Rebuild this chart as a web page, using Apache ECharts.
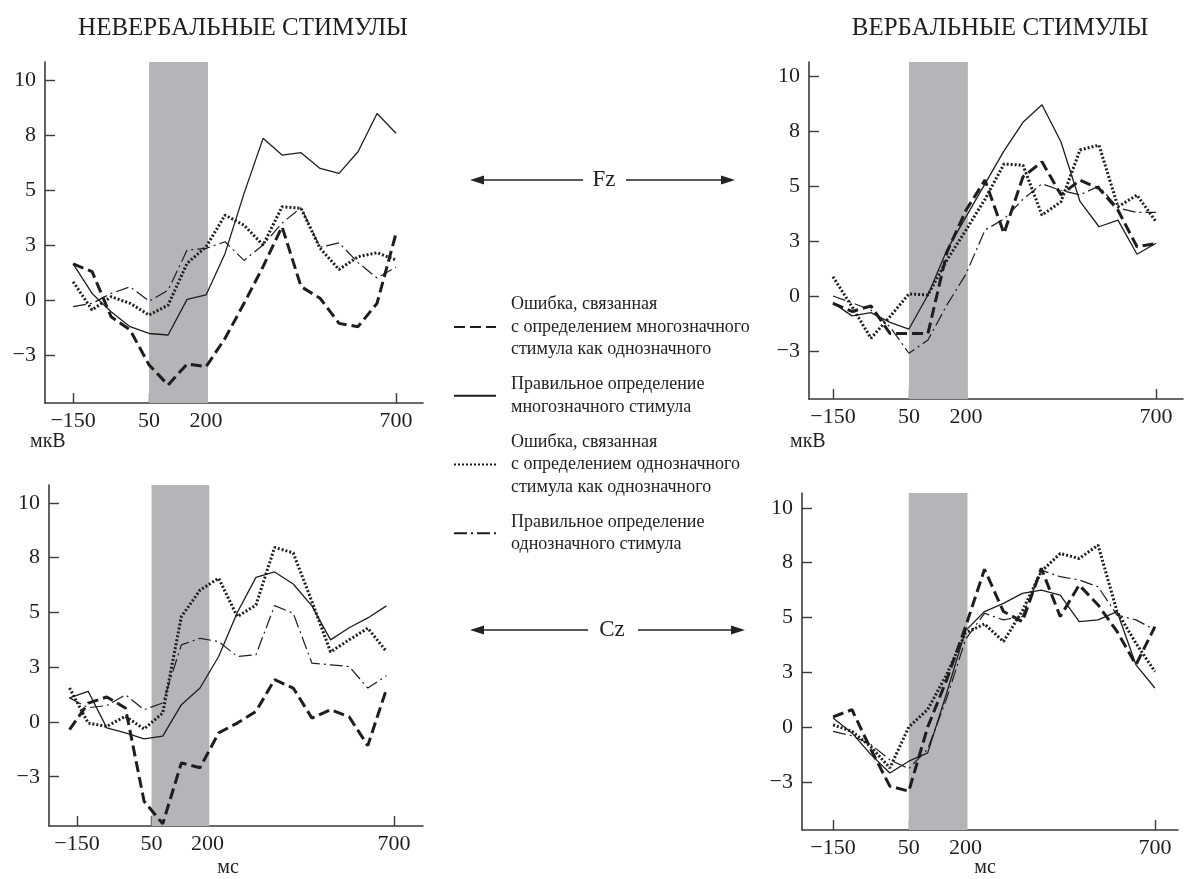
<!DOCTYPE html>
<html><head><meta charset="utf-8">
<script src="https://cdn.jsdelivr.net/npm/echarts@6/dist/echarts.min.js"></script>
<style>html,body{margin:0;padding:0;background:#fff}#c{width:1184px;height:879px}</style>
</head><body><div id="c"></div>
<script>
// ---------- data ----------
const timesStd = [-150,-100,-50,0,50,100,150,200,250,300,350,400,450,500,550,600,650,700];
const timesCzNonverbal = [-170,-120,-70,-20,30,80,130,180,230,280,330,380,430,480,530,580,630,680];
const xTickValues = [-150, 50, 200, 700];
const xTickLabels = ['\u2212150', '50', '200', '700'];
const yTickValues = [-2.5, 0, 2.5, 5, 7.5, 10];
const yTickLabels = ['\u22123', '0', '3', '5', '8', '10'];
const stimWindow = [50, 205];
const seriesNames = [
  'Ошибка, связанная\nс определением многозначного\nстимула как однозначного',
  'Правильное определение\nмногозначного стимула',
  'Ошибка, связанная\nс определением однозначного\nстимула как однозначного',
  'Правильное определение\nоднозначного стимула'
];
const panelTitles = ['НЕВЕРБАЛЬНЫЕ СТИМУЛЫ', 'ВЕРБАЛЬНЫЕ СТИМУЛЫ'];
const electrodes = ['Fz', 'Cz'];
const unitY = 'мкВ';
const unitX = 'мс';

// Fz, non-verbal
const fzNonErrAmb   = [1.64, 1.29, -0.76, -1.36, -2.95, -3.86, -2.91, -3.03, -1.74, -0.15, 1.52, 3.33, 0.61, 0.08, -1.06, -1.21, -0.15, 3.03];
const fzNonCorrAmb  = [1.64, 0.30, -0.53, -1.21, -1.52, -1.59, 0.03, 0.23, 2.12, 4.85, 7.35, 6.59, 6.70, 5.98, 5.76, 6.74, 8.48, 7.58];
const fzNonErrUn    = [0.83, -0.45, 0.15, -0.15, -0.68, -0.23, 1.67, 2.42, 3.86, 3.40, 2.50, 4.24, 4.17, 2.35, 1.39, 1.97, 2.15, 1.82];
const fzNonCorrUn   = [-0.30, -0.15, 0.30, 0.60, -0.05, 0.45, 2.27, 2.35, 2.65, 1.80, 2.50, 3.50, 4.20, 2.40, 2.60, 1.70, 1.00, 1.50];
// Fz, verbal
const fzVerErrAmb   = [-0.33, -0.70, -0.45, -1.70, -1.70, -1.70, 2.00, 3.90, 5.27, 2.85, 5.42, 6.10, 4.60, 5.27, 4.89, 3.90, 2.24, 2.39];
const fzVerCorrAmb  = [-0.30, -0.90, -0.75, -1.20, -1.50, 0.05, 2.10, 3.60, 5.10, 6.60, 7.90, 8.70, 7.00, 4.30, 3.15, 3.45, 1.90, 2.40];
const fzVerErrUn    = [0.88, -0.48, -1.92, -0.94, 0.10, 0.05, 1.64, 3.00, 4.40, 6.00, 5.95, 3.68, 4.29, 6.64, 6.86, 4.06, 4.59, 3.38];
const fzVerCorrUn   = [0.00, -0.30, -0.64, -1.40, -2.60, -2.00, -0.40, 1.00, 3.00, 3.50, 4.40, 5.10, 4.80, 4.60, 5.00, 4.00, 3.80, 3.80];
// Cz, non-verbal
const czNonErrAmb   = [-0.35, 0.86, 1.14, 0.64, -3.62, -4.65, -1.87, -2.09, -0.50, -0.05, 0.48, 1.93, 1.55, 0.18, 0.56, 0.23, -1.08, 1.50];
const czNonCorrAmb  = [1.10, 1.40, -0.27, -0.50, -0.77, -0.65, 0.79, 1.55, 2.99, 5.00, 6.60, 6.85, 6.30, 5.30, 3.75, 4.30, 4.75, 5.30];
const czNonErrUn    = [1.55, -0.05, -0.20, 0.26, -0.32, 0.41, 4.81, 6.02, 6.56, 4.81, 5.34, 7.97, 7.72, 5.50, 3.20, 3.75, 4.28, 3.22];
const czNonCorrUn   = [1.10, 0.65, 0.75, 1.24, 0.56, 0.87, 3.52, 3.82, 3.67, 2.99, 3.07, 5.31, 4.96, 2.69, 2.61, 2.53, 1.55, 2.11];
// Cz, verbal
const czVerErrAmb   = [0.46, 0.79, -1.03, -2.70, -2.93, 0.00, 2.15, 4.58, 7.20, 5.27, 4.81, 7.24, 5.04, 6.48, 5.57, 4.36, 2.84, 4.58];
const czVerCorrAmb  = [0.41, -0.27, -1.26, -2.10, -1.56, -1.18, 1.55, 4.40, 5.27, 5.64, 6.10, 6.25, 6.02, 4.81, 4.89, 5.27, 2.84, 1.78];
const czVerErrUn    = [0.10, -0.20, -0.90, -1.87, 0.00, 0.80, 2.40, 4.30, 4.70, 3.90, 5.30, 7.10, 7.92, 7.69, 8.30, 5.27, 3.82, 2.53];
const czVerCorrUn   = [-0.20, -0.40, -0.80, -1.50, -1.90, -1.00, 1.30, 4.00, 5.19, 4.89, 5.04, 7.16, 6.86, 6.71, 6.40, 5.11, 4.89, 4.43];

// ---------- layout / styles ----------
const FONT = '"Liberation Serif", "Times New Roman", serif';
const INK = '#1e1e1e';
const panels = [
  { times: timesStd, lines: [fzNonErrAmb, fzNonCorrAmb, fzNonErrUn, fzNonCorrUn],
    grid: {left: 45, top: 62, width: 378, height: 341}, x: [-224, 771], y: [-4.68, 10.82] },
  { times: timesStd, lines: [fzVerErrAmb, fzVerCorrAmb, fzVerErrUn, fzVerCorrUn],
    grid: {left: 809, top: 62, width: 374, height: 337}, x: [-213, 771], y: [-4.68, 10.64] },
  { times: timesCzNonverbal, lines: [czNonErrAmb, czNonCorrAmb, czNonErrUn, czNonCorrUn],
    grid: {left: 49, top: 485, width: 374, height: 341}, x: [-225, 778], y: [-4.75, 10.82] },
  { times: timesStd, lines: [czVerErrAmb, czVerCorrAmb, czVerErrUn, czVerCorrUn],
    grid: {left: 802, top: 493, width: 376, height: 337}, x: [-232, 761], y: [-4.70, 10.68] }
];
const lineStyles = [
  {width: 3, type: [11, 5], color: INK},
  {width: 1.3, type: 'solid', color: INK},
  {width: 3, type: [2, 2], color: INK},
  {width: 1.2, type: [13, 4, 2, 4], color: INK}
];

const grid = [], xAxis = [], yAxis = [], series = [];
panels.forEach((p, i) => {
  grid.push(Object.assign({containLabel: false}, p.grid));
  xAxis.push({
    type: 'value', gridIndex: i, min: p.x[0], max: p.x[1],
    splitLine: {show: false},
    axisLine: {show: true, onZero: false, lineStyle: {color: '#3a3a3a', width: 1.6}},
    axisTick: {show: true, inside: true, length: 10, customValues: xTickValues, lineStyle: {color: '#3a3a3a', width: 1.4}},
    axisLabel: {show: true, customValues: xTickValues, margin: 7, color: INK, fontFamily: FONT, fontSize: 22,
      formatter: v => { const k = xTickValues.indexOf(v); return k >= 0 ? xTickLabels[k] : ''; }}
  });
  yAxis.push({
    type: 'value', gridIndex: i, min: p.y[0], max: p.y[1],
    splitLine: {show: false},
    axisLine: {show: true, onZero: false, lineStyle: {color: '#3a3a3a', width: 1.6}},
    axisTick: {show: true, inside: true, length: 10, customValues: yTickValues, lineStyle: {color: '#3a3a3a', width: 1.4}},
    axisLabel: {show: true, customValues: yTickValues, margin: 9, color: INK, fontFamily: FONT, fontSize: 22,
      formatter: v => { const k = yTickValues.indexOf(v); return k >= 0 ? yTickLabels[k] : ''; }}
  });
  series.push({
    type: 'line', xAxisIndex: i, yAxisIndex: i, data: [], z: 1, silent: true,
    markArea: {silent: true, itemStyle: {color: '#b4b5b8'}, data: [[{xAxis: stimWindow[0]}, {xAxis: stimWindow[1]}]]}
  });
  p.lines.forEach((vals, j) => {
    series.push({
      name: seriesNames[j], type: 'line', xAxisIndex: i, yAxisIndex: i, z: 3,
      symbol: 'none', smooth: false, animation: false,
      lineStyle: lineStyles[j], itemStyle: {color: INK},
      data: vals.map((v, k) => [p.times[k], v])
    });
  });
});

function arrow(y, x1, x2, gapL, gapR, label, labelX) {
  const col = '#222';
  return [
    {type: 'line', shape: {x1: x1 + 4, y1: y, x2: gapL, y2: y}, style: {stroke: col, lineWidth: 1.3}},
    {type: 'line', shape: {x1: gapR, y1: y, x2: x2 - 4, y2: y}, style: {stroke: col, lineWidth: 1.3}},
    {type: 'polygon', shape: {points: [[x1, y], [x1 + 14, y - 4.5], [x1 + 14, y + 4.5]]}, style: {fill: col}},
    {type: 'polygon', shape: {points: [[x2, y], [x2 - 14, y - 4.5], [x2 - 14, y + 4.5]]}, style: {fill: col}},
    {type: 'text', x: labelX, y: y, style: {text: label, font: '23px ' + FONT, fill: INK, align: 'center', verticalAlign: 'middle'}}
  ];
}

const graphic = [
  {type: 'text', x: 243, y: 28, style: {text: panelTitles[0], font: '25px ' + FONT, fill: INK, align: 'center', verticalAlign: 'middle'}},
  {type: 'text', x: 1000, y: 28, style: {text: panelTitles[1], font: '25px ' + FONT, fill: INK, align: 'center', verticalAlign: 'middle'}},
  {type: 'text', x: 30, y: 442, style: {text: unitY, font: '20px ' + FONT, fill: INK, align: 'left', verticalAlign: 'middle'}},
  {type: 'text', x: 790, y: 442, style: {text: unitY, font: '20px ' + FONT, fill: INK, align: 'left', verticalAlign: 'middle'}},
  {type: 'text', x: 228, y: 868, style: {text: unitX, font: '20px ' + FONT, fill: INK, align: 'center', verticalAlign: 'middle'}},
  {type: 'text', x: 985, y: 868, style: {text: unitX, font: '20px ' + FONT, fill: INK, align: 'center', verticalAlign: 'middle'}}
].concat(arrow(180, 470, 735, 583, 626, electrodes[0], 604))
 .concat(arrow(630, 470, 745, 588, 638, electrodes[1], 612));

const chart = echarts.init(document.getElementById('c'), null, {renderer: 'canvas'});
chart.setOption({
  animation: false,
  backgroundColor: '#ffffff',
  grid, xAxis, yAxis, series, graphic,
  legend: {
    orient: 'vertical', left: 453, top: 293, padding: 0, itemWidth: 42, itemHeight: 12, itemGap: 12,
    data: seriesNames, selectedMode: false,
    itemStyle: {opacity: 0, borderWidth: 0},
    textStyle: {fontFamily: FONT, fontSize: 18, lineHeight: 22.7, color: INK, padding: [0, 0, 0, 10]}
  }
});
</script></body></html>
